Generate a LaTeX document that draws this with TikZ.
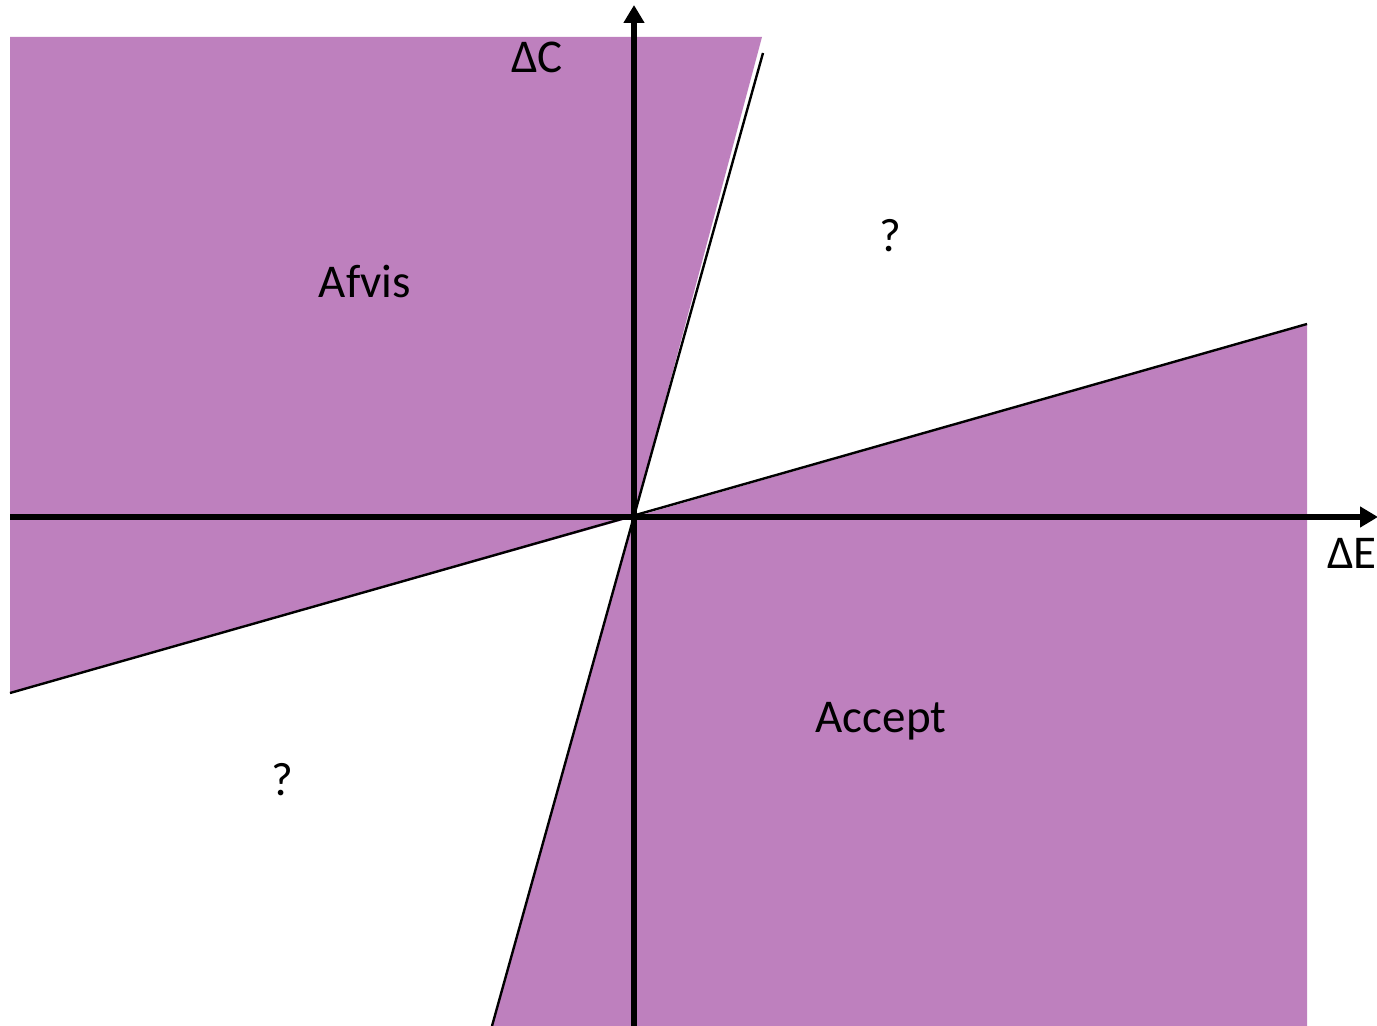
\documentclass[tikz,border=0pt]{standalone}
\usepackage{fontspec}
\setmainfont{Carlito}
\usetikzlibrary{arrows.meta}
\definecolor{regionpurple}{RGB}{190,128,190}
\tikzset{
  region/.style={fill=regionpurple, draw=none},
  boundary/.style={draw=black, line width=1.2pt},
  axis/.style={draw=black, line width=2.8pt, -{Triangle[length=9pt,width=10pt]}},
  lbl/.style={font=\fontsize{23.5pt}{28pt}\selectfont, anchor=base, inner sep=0pt}
}
\begin{document}
\begin{tikzpicture}[x=0.5pt,y=-0.5pt]
\useasboundingbox (0,0) rectangle (1377,1026);
% coordinates
\coordinate (O) at (634,517);
\coordinate (TL) at (10,37);
\coordinate (TR) at (762,37);
\coordinate (SteepTop) at (763,53);
\coordinate (SteepBot) at (492,1026);
\coordinate (ShallowR) at (1307,324);
\coordinate (ShallowL) at (10,693);
\coordinate (BR) at (1307,1026);
\coordinate (XL) at (10,517);
\coordinate (XR) at (1378,517);
\coordinate (YB) at (634,1026);
\coordinate (YT) at (634,5);
% regions
\path[region] (TL) -- (TR) -- (O) -- (ShallowL) -- cycle;
\path[region] (O) -- (ShallowR) -- (BR) -- (SteepBot) -- cycle;
% boundary lines
\draw[boundary] (SteepTop) -- (SteepBot);
\draw[boundary] (ShallowR) -- (ShallowL);
% axes
\draw[axis] (XL) -- (XR);
\draw[axis] (YB) -- (YT);
% labels
\node[lbl] (dc) at (537,73) {ΔC};
\node[lbl] (de) at (1352,568) {ΔE};
\node[lbl] (afvis) at (365,298) {Afvis};
\node[lbl] (q1) at (890,252) {?};
\node[lbl] (accept) at (881,732) {Accept};
\node[lbl] (q2) at (282,795) {?};
\end{tikzpicture}
\end{document}
